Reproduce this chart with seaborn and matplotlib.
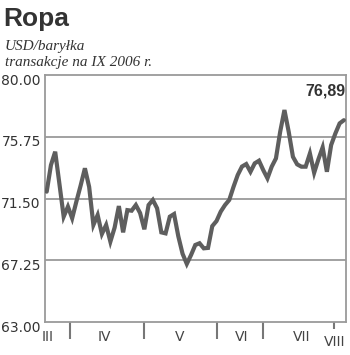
import matplotlib
matplotlib.use("Agg")
import matplotlib.pyplot as plt
import matplotlib.transforms as mtransforms
import seaborn as sns
import pandas as pd
import numpy as np

# ---- data ----
prices = [71.97, 73.80, 74.72, 72.50, 70.25, 70.94, 70.14, 71.30, 72.40, 73.58,
          72.30, 69.68, 70.36, 69.06, 69.68, 68.53, 69.50, 70.98, 69.17, 70.70,
          70.66, 71.05, 70.50, 69.38, 71.05, 71.40, 70.83, 69.17, 69.10, 70.25,
          70.43, 68.90, 67.70, 67.00, 67.61, 68.30, 68.42, 68.07, 68.10, 69.60,
          69.95, 70.60, 71.05, 71.40, 72.30, 73.12, 73.70, 73.87, 73.34, 73.92,
          74.10, 73.46, 72.89, 73.69, 74.26, 76.10, 77.59, 76.10, 74.37, 73.85,
          73.69, 73.69, 74.60, 73.27, 74.20, 75.02, 73.34, 75.18, 75.98, 76.67,
          76.89]
days = list(range(len(prices)))
month_bounds = [5.5, 23.0, 40.0, 51.0]
last_bound = [67.7]
month_names = ["III", "IV", "V", "VI", "VII", "VIII"]
month_label_pos = [0.3, 13.7, 31.4, 46.0, 60.1, 67.9]
yticks = [63.00, 67.25, 71.50, 75.75, 80.00]
ytick_labels = ["63.00", "67.25", "71.50", "75.75", "80.00"]
last_label = "76,89"

df = pd.DataFrame({"day": days, "price": prices})

sns.set_theme(style="white")
plt.rcParams["font.family"] = ["DejaVu Sans"]

W, H = 350, 355
fig = plt.figure(figsize=(W / 100, H / 100), dpi=100)
ax = fig.add_axes([45 / W, 1 - 322 / H, (346 - 45) / W, (322 - 75) / H])

grid_c = "#9a9a9a"
text_c = "#333333"

for v in yticks[1:-1]:
    ax.axhline(v, color=grid_c, lw=1.3, zorder=1)

sns.lineplot(data=df, x="day", y="price", ax=ax, color="#5e5e5e", lw=3.0,
             zorder=3, solid_joinstyle="miter")

ax.set_xlim(-0.4, 70.5)
ax.set_ylim(63, 80)
ax.set_xlabel("")
ax.set_ylabel("")

for s in ax.spines.values():
    s.set_color(grid_c)
    s.set_linewidth(1.3)

ax.set_yticks(yticks)
ax.set_yticklabels(ytick_labels)
ax.tick_params(axis="y", length=0, pad=3, labelsize=10, labelcolor=text_c)
off = mtransforms.ScaledTranslation(0, -4 / 100, fig.dpi_scale_trans)
for lab in ax.get_yticklabels():
    lab.set_transform(lab.get_transform() + off)

ax.set_xticks(month_bounds)
ax.set_xticklabels([""] * len(month_bounds))
ax.set_xticks(last_bound, minor=True)
ax.tick_params(axis="x", which="major", direction="out", length=12, width=1.5,
               color="#777777", bottom=True)
ax.tick_params(axis="x", which="minor", direction="out", length=5, width=1.5,
               color="#777777", bottom=True)

btrans = mtransforms.blended_transform_factory(ax.transData, fig.transFigure)
for i, (name, xp) in enumerate(zip(month_names, month_label_pos)):
    ypx = 342 if name == "VIII" else 337
    ax.text(xp, 1 - ypx / H, name, transform=btrans, ha="center", va="center",
            fontsize=10, color="#444444", family="DejaVu Sans")

ax.annotate(last_label, xy=(days[-1], prices[-1]), xytext=(1, 18),
            textcoords="offset points", ha="right", va="baseline",
            fontsize=11.5, fontweight="bold", color=text_c,
            family="Liberation Sans")

fig.text(3 / W, 1 - 26 / H, "Ropa", fontsize=19, fontweight="bold",
         color=text_c, family="Liberation Sans", ha="left", va="baseline")
fig.text(5 / W, 1 - 50 / H, "USD/baryłka", fontsize=11, style="italic",
         color=text_c, family="Liberation Serif", ha="left", va="baseline")
fig.text(5 / W, 1 - 66 / H, "transakcje na IX 2006 r.", fontsize=11,
         style="italic", color=text_c, family="Liberation Serif",
         ha="left", va="baseline")

fig.savefig("out.png", dpi=100, facecolor="white")
